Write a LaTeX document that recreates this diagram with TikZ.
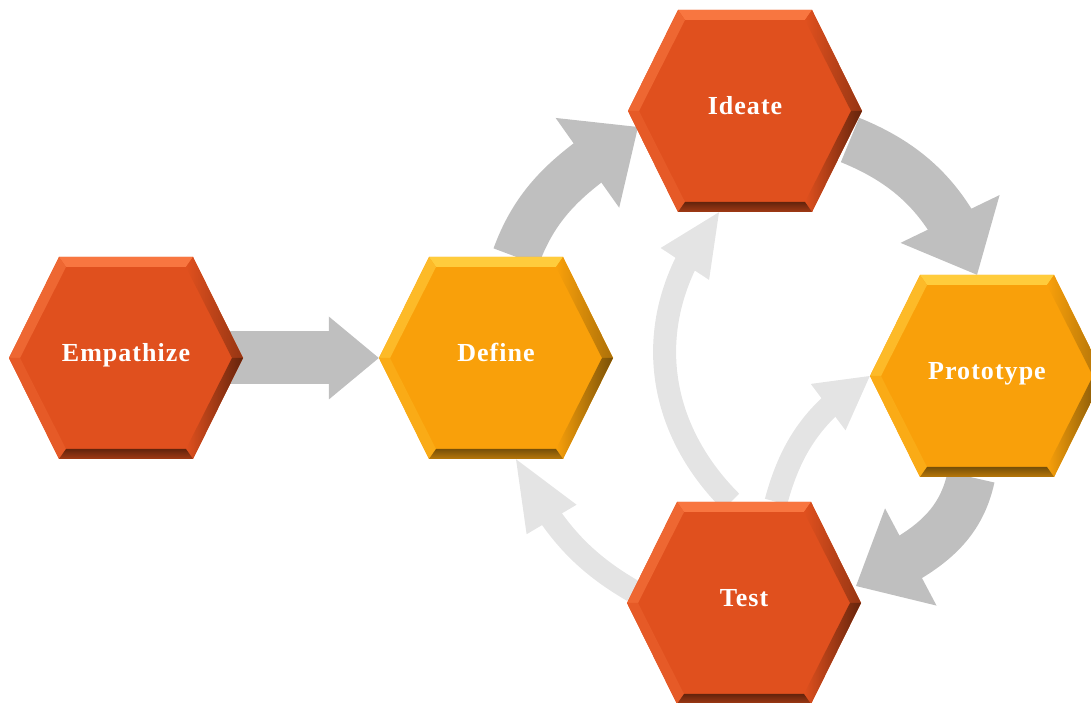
\documentclass[tikz,border=0pt]{standalone}
\usepackage{fontspec}
\setmainfont{Liberation Serif}
\newfontfamily\phasefont{Liberation Serif}[LetterSpace=4]
\usetikzlibrary{arrows.meta,bending}

\definecolor{hexred}{RGB}{224,80,30}
\definecolor{hexredlight}{RGB}{248,118,64}
\definecolor{hexreddark}{RGB}{100,36,12}
\definecolor{hexorange}{RGB}{249,160,10}
\definecolor{hexorangelight}{RGB}{255,204,60}
\definecolor{hexorangedark}{RGB}{120,80,8}
\definecolor{flowgray}{RGB}{191,191,191}
\definecolor{flowlight}{RGB}{228,228,228}

\pgfdeclarelayer{arrowlayer}
\pgfdeclarelayer{hexlayer}
\pgfsetlayers{arrowlayer,hexlayer,main}

% bevelled hexagon behind a phase node
\newcommand{\hexbevel}[4]{%
  \begin{scope}[shift={(#1.center)}]
    \fill[#2] (-117,0) -- (-67,101) -- (67,101) -- (117,0) -- (67,-101) -- (-67,-101) -- cycle;
    \fill[#3] (-67,101) -- (67,101) -- (60,91) -- (-60,91) -- cycle;
    \fill[#3!60!#2] (-117,0) -- (-67,101) -- (-60,91) -- (-106,0) -- cycle;
    \fill[#3!25!#2] (-117,0) -- (-106,0) -- (-60,-91) -- (-67,-101) -- cycle;
    \shade[left color=#2, right color=#4!60!#2] (117,0) -- (67,101) -- (60,91) -- (106,0) -- cycle;
    \shade[left color=#2, right color=#4] (117,0) -- (106,0) -- (60,-91) -- (67,-101) -- cycle;
    \shade[top color=#4, bottom color=#4!50!#2] (-67,-101) -- (67,-101) -- (60,-91) -- (-60,-91) -- cycle;
  \end{scope}}

\begin{document}
\begin{tikzpicture}[x=1pt,y=1pt,
  phase/.style={rectangle,minimum width=234pt,minimum height=202pt,inner sep=0pt,
    text height=18pt,text depth=10pt,text=white,font=\phasefont\bfseries\fontsize{26}{30}\selectfont},
  flowstraight/.style={draw=flowgray,line width=53pt,-{Triangle[length=50pt,width=83pt,line width=0pt 0 0]}},
  flowdark/.style={draw=flowgray,line width=48pt,-{Triangle[length=62pt,width=110pt,line width=0pt 0 0,flex]}},
  flowthin/.style={draw=flowlight,line width=23pt,-{Triangle[length=#1,width=58pt,line width=0pt 0 0,flex]}},
  flowthin/.default=62pt]
  \clip (0,0) rectangle (1091,703);

  \node[phase] (emp) at (126,345) {Empathize};
  \node[phase] (def) at (496,345) {Define};
  \node[phase] (ide) at (745,592) {Ideate};
  \node[phase] (pro) at (987,327) {Prototype};
  \node[phase] (tst) at (744,100) {Test};

  \begin{pgfonlayer}{hexlayer}
    \hexbevel{emp}{hexred}{hexredlight}{hexreddark}
    \hexbevel{def}{hexorange}{hexorangelight}{hexorangedark}
    \hexbevel{ide}{hexred}{hexredlight}{hexreddark}
    \hexbevel{pro}{hexorange}{hexorangelight}{hexorangedark}
    \hexbevel{tst}{hexred}{hexredlight}{hexreddark}
  \end{pgfonlayer}

  \begin{pgfonlayer}{arrowlayer}
    \draw[flowstraight] (emp.center) -- (def.west);
    \draw[flowdark] ([xshift=20pt]def.north) to[out=70,in=215] ([shift={(-107pt,-16pt)}]ide.center);
    \draw[flowdark] ([shift={(105pt,-29pt)}]ide.center) to[out=-22,in=111] ([xshift=-10pt]pro.north);
    \draw[flowdark] ([xshift=-16pt]pro.south) to[out=258,in=27] ([shift={(112pt,17pt)}]tst.center);
    \draw[flowthin=70pt] ([shift={(-111pt,12pt)}]tst.center) to[out=150,in=298] ([xshift=20pt]def.south);
    \draw[flowthin] ([xshift=-13pt]tst.north) to[out=135,in=230,looseness=1.05] ([xshift=-26pt]ide.south);
    \draw[flowthin=52pt] ([xshift=32pt]tst.north) to[out=75,in=212] (pro.west);
  \end{pgfonlayer}
\end{tikzpicture}
\end{document}
